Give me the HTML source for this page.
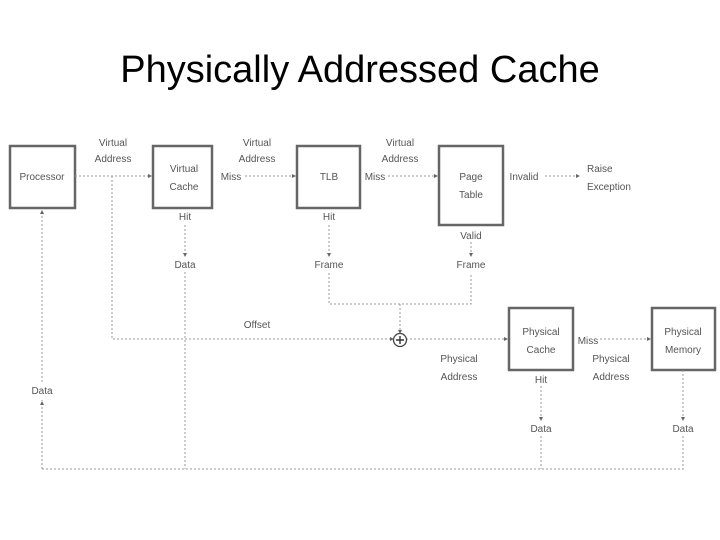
<!DOCTYPE html>
<html><head><meta charset="utf-8"><style>
html,body{margin:0;padding:0;background:#fff;}
svg{display:block;}
text{font-family:"Liberation Sans",sans-serif;font-size:10px;fill:#555;}
.b{fill:#fff;stroke:#666;stroke-width:2.5;}
.d{stroke:#999;stroke-width:1;stroke-dasharray:2,2;fill:none;}
.t{font-size:38px;fill:#000;font-family:"Liberation Sans",sans-serif;}
</style></head><body>
<svg width="720" height="540" viewBox="0 0 720 540">
<text x="360" y="82" text-anchor="middle" class="t">Physically Addressed Cache</text>
<!-- boxes -->
<rect class="b" x="10" y="146" width="65" height="62"/>
<rect class="b" x="153" y="146" width="59" height="62"/>
<rect class="b" x="297" y="146" width="63" height="62"/>
<rect class="b" x="439" y="146" width="64" height="79"/>
<rect class="b" x="509" y="308" width="64" height="62"/>
<rect class="b" x="652" y="308" width="63" height="62"/>
<!-- connectors -->
<path class="d" d="M75 176H150"/>
<path class="d" d="M245 176H294"/>
<path class="d" d="M388 176H436"/>
<path class="d" d="M545 176H578"/>
<path class="d" d="M112 176V339H394"/>
<path class="d" d="M406 339H506"/>
<path class="d" d="M600 339H649"/>
<path class="d" d="M329 273V304H471V273"/>
<path class="d" d="M400 304V333"/>
<path class="d" d="M185 225V254"/>
<path class="d" d="M329 225V254"/>
<path class="d" d="M471 242V255"/>
<path class="d" d="M185 272V469"/>
<path class="d" d="M42 469H683V436"/>
<path class="d" d="M683 370V418"/>
<path class="d" d="M541 386V418"/>
<path class="d" d="M541 436V469"/>
<path class="d" d="M42 469V400"/>
<path class="d" d="M42 382V214"/>
<circle cx="400" cy="340" r="6.5" fill="#fff" stroke="#444" stroke-width="1.3"/>
<path d="M396 340H404M400 336V344" stroke="#333" stroke-width="1.4"/>
<!-- arrowheads -->
<g fill="#666">
<path d="M152 176l-4-2v4z"/><path d="M296 176l-4-2v4z"/><path d="M438 176l-4-2v4z"/><path d="M580 176l-4-2v4z"/>
<path d="M394 339l-4-2v4z"/><path d="M508 339l-4-2v4z"/><path d="M651 339l-4-2v4z"/>
<path d="M185 257l-2-4h4z"/><path d="M329 257l-2-4h4z"/><path d="M471 257l-2-4h4z"/>
<path d="M400 334l-2-4h4z"/><path d="M541 421l-2-4h4z"/><path d="M683 421l-2-4h4z"/>
<path d="M42 210l-2 4h4z"/><path d="M42 401l-2 4h4z"/>
</g>
<!-- labels -->
<text x="42" y="180" text-anchor="middle">Processor</text>
<text x="113" y="146" text-anchor="middle">Virtual</text>
<text x="113" y="162" text-anchor="middle">Address</text>
<text x="184" y="172" text-anchor="middle">Virtual</text>
<text x="184" y="190" text-anchor="middle">Cache</text>
<text x="231" y="180" text-anchor="middle">Miss</text>
<text x="257" y="146" text-anchor="middle">Virtual</text>
<text x="257" y="162" text-anchor="middle">Address</text>
<text x="329" y="180" text-anchor="middle">TLB</text>
<text x="375" y="180" text-anchor="middle">Miss</text>
<text x="400" y="146" text-anchor="middle">Virtual</text>
<text x="400" y="162" text-anchor="middle">Address</text>
<text x="471" y="180" text-anchor="middle">Page</text>
<text x="471" y="198" text-anchor="middle">Table</text>
<text x="524" y="180" text-anchor="middle">Invalid</text>
<text x="587" y="172">Raise</text>
<text x="587" y="190">Exception</text>
<text x="185" y="220" text-anchor="middle">Hit</text>
<text x="185" y="268" text-anchor="middle">Data</text>
<text x="329" y="220" text-anchor="middle">Hit</text>
<text x="329" y="268" text-anchor="middle">Frame</text>
<text x="471" y="239" text-anchor="middle">Valid</text>
<text x="471" y="268" text-anchor="middle">Frame</text>
<text x="257" y="328" text-anchor="middle">Offset</text>
<text x="459" y="362" text-anchor="middle">Physical</text>
<text x="459" y="380" text-anchor="middle">Address</text>
<text x="541" y="335" text-anchor="middle">Physical</text>
<text x="541" y="353" text-anchor="middle">Cache</text>
<text x="588" y="344" text-anchor="middle">Miss</text>
<text x="611" y="362" text-anchor="middle">Physical</text>
<text x="611" y="380" text-anchor="middle">Address</text>
<text x="541" y="383" text-anchor="middle">Hit</text>
<text x="683" y="335" text-anchor="middle">Physical</text>
<text x="683" y="353" text-anchor="middle">Memory</text>
<text x="541" y="432" text-anchor="middle">Data</text>
<text x="683" y="432" text-anchor="middle">Data</text>
<text x="42" y="394" text-anchor="middle">Data</text>
</svg>
</body></html>
